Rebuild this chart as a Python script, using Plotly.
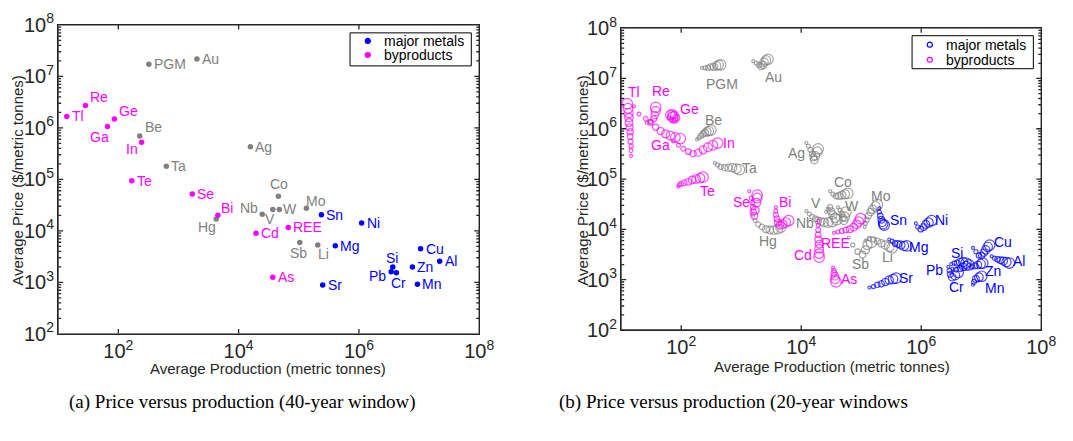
import math
import plotly.graph_objects as go

# ---------------- (a) 40-year window: one point per element ----------------
elements_a = ["PGM", "Au", "Re", "Tl", "Ge", "Ga", "Be", "In", "Ta", "Te", "Ag", "Se",
              "Bi", "Hg", "Cd", "Nb", "V", "W", "Co", "Mo", "REE", "Sb", "Li", "As",
              "Sn", "Ni", "Mg", "Sr", "Cu", "Al", "Zn", "Si", "Pb", "Cr", "Mn"]
prod_a = [322, 2027, 28.4, 13.9, 86, 66, 227, 244, 628, 167, 15700, 1698,
          4530, 4250, 19500, 24700, 37000, 47500, 45800, 1.34e5, 66800, 1.04e5, 2.07e5, 37000,
          2.38e5, 1.11e6, 4.05e5, 2.5e5, 1.06e7, 2.2e7, 7.76e6, 3.65e6, 3.44e6, 4.2e6, 9.4e6]
price_a = [1.71e7, 2.17e7, 2.7e6, 1.66e6, 1.49e6, 1.06e6, 6.95e5, 5.25e5, 1.8e5, 9.4e4, 4.3e5, 5.2e4,
           2.0e4, 1.7e4, 9.0e3, 2.1e4, 2.6e4, 2.6e4, 4.68e4, 2.74e4, 1.16e4, 5.9e3, 5.3e3, 1.26e3,
           2.04e4, 1.41e4, 5.1e3, 890, 4.47e3, 2.55e3, 1.98e3, 1.98e3, 1.6e3, 1.54e3, 912]

major_metals = ["Sn", "Ni", "Mg", "Sr", "Cu", "Al", "Zn", "Si", "Pb", "Cr", "Mn"]
byproducts = ["Re", "Tl", "Ge", "Ga", "In", "Te", "Se", "Bi", "Cd", "REE", "As"]
legend_labels = ["major metals", "byproducts"]

# ---------------- (b) 20-year windows: trajectories ----------------
PGM_prod = [222, 249, 279, 312, 349, 391, 422, 455]
PGM_price = [1.63e7, 1.63e7, 1.63e7, 1.70e7, 1.70e7, 1.78e7, 1.86e7, 1.86e7]
Au_prod = [1590, 1780, 1990, 2150, 2320, 2400, 2590, 2800]
Au_price = [2.21e7, 2.02e7, 1.86e7, 1.70e7, 1.86e7, 2.11e7, 2.30e7, 2.40e7]
Tl_prod = [14.6, 14.6, 14.6, 14.3, 14.1, 14.1, 13.8, 13.5, 13.5, 13.3, 13.0, 12.6]
Tl_price = [2.9e5, 3.65e5, 4.5e5, 5.6e5, 7.0e5, 8.7e5, 1.07e6, 1.33e6, 1.66e6, 2.05e6, 2.55e6, 3.16e6]
Ga_prod = [16.3, 19.8, 25.7, 31.0, 37.6, 45.4, 54.9, 66.2, 80.0, 96.6]
Ga_price = [2.78e6, 1.97e6, 1.58e6, 1.33e6, 1.07e6, 9.0e5, 7.9e5, 7.3e5, 6.7e5, 6.4e5]
Re_prod = [26.7, 31.0, 34.8, 36.2, 37.6, 37.6]
Re_price = [1.33e6, 1.39e6, 1.58e6, 1.88e6, 2.24e6, 2.66e6]
Ge_prod = [63, 68, 74, 80, 83, 77, 71, 66, 72]
Ge_price = [1.66e6, 1.5e6, 1.45e6, 1.5e6, 1.66e6, 1.88e6, 1.97e6, 1.88e6, 1.7e6]
In_prod = [74, 90, 108, 131, 158, 191, 231, 279, 336, 406]
In_price = [5.6e5, 4.7e5, 4.0e5, 3.5e5, 3.2e5, 3.35e5, 3.8e5, 4.3e5, 4.7e5, 5.2e5]
Be_prod = [184, 198, 214, 231, 249, 268, 289, 312]
Be_price = [6.1e5, 6.7e5, 7.3e5, 7.9e5, 8.3e5, 8.7e5, 9.0e5, 9.4e5]
Ta_prod = [363, 406, 455, 530, 616, 717, 834, 934]
Ta_price = [2.08e5, 1.91e5, 1.75e5, 1.68e5, 1.68e5, 1.68e5, 1.61e5, 1.54e5]
Te_prod = [89.5, 93, 100, 112, 131, 152, 177, 206, 231]
Te_price = [7.1e4, 7.7e4, 8.1e4, 8.4e4, 8.8e4, 9.6e4, 1.0e5, 1.04e5, 1.09e5]
Ag_prod = [12200, 13200, 14200, 15300, 15900, 16500, 17200, 18500, 19200]
Ag_price = [5.2e5, 4.5e5, 3.8e5, 3.2e5, 2.7e5, 2.4e5, 2.9e5, 3.5e5, 4.0e5]
Se_prod = [1365, 1470, 1530, 1585, 1585, 1650, 1710, 1780, 1845, 1845]
Se_price = [5.7e4, 4.2e4, 3.4e4, 2.74e4, 2.21e4, 1.86e4, 2.4e4, 3.4e4, 4.2e4, 4.8e4]
Hg_prod = [1585, 1710, 1915, 2230, 2590, 3015, 3510, 4080, 4570]
Hg_price = [1.86e4, 1.5e4, 1.26e4, 1.11e4, 1.01e4, 9.7e3, 9.7e3, 1.01e4, 1.11e4]
Bi_prod = [3780, 3780, 3780, 3930, 4080, 4400, 4930, 5520, 6180]
Bi_price = [2.74e4, 2.3e4, 1.94e4, 1.63e4, 1.37e4, 1.21e4, 1.26e4, 1.37e4, 1.5e4]
Nb_prod = [12200, 13700, 15300, 17200, 19200, 21500, 24100, 28100, 32700]
Nb_price = [2.3e4, 2.02e4, 1.78e4, 1.63e4, 1.5e4, 1.43e4, 1.37e4, 1.37e4, 1.43e4]
V_prod = [26000, 28100, 30300, 31500, 33900, 36600, 39400]
V_price = [2.21e4, 2.51e4, 2.74e4, 2.3e4, 1.94e4, 1.7e4, 1.56e4]
W_prod = [40900, 44200, 47600, 49500, 51400, 53400, 55400]
W_price = [2.74e4, 2.4e4, 2.02e4, 1.7e4, 1.5e4, 1.78e4, 2.21e4]
Co_prod = [30300, 33900, 38000, 42600, 47600, 53400, 59800]
Co_price = [5.7e4, 5.0e4, 4.6e4, 4.6e4, 4.8e4, 5.0e4, 5.2e4]
Mo_prod = [1.14e5, 1.18e5, 1.23e5, 1.32e5, 1.43e5, 1.54e5, 1.72e5, 1.86e5]
Mo_price = [1.11e4, 1.32e4, 1.56e4, 1.86e4, 2.21e4, 2.51e4, 2.86e4, 3.12e4]
Sn_prod = [2.0e5, 2.0e5, 2.08e5, 2.16e5, 2.25e5, 2.33e5, 2.42e5]
Sn_price = [2.62e4, 2.21e4, 1.86e4, 1.56e4, 1.37e4, 1.26e4, 1.21e4]
REE_prod = [35200, 40900, 47600, 55400, 64600, 75100, 84000, 90600, 97700]
REE_price = [8.5e3, 8.9e3, 9.3e3, 9.7e3, 1.01e4, 1.11e4, 1.26e4, 1.43e4, 1.63e4]
Cd_prod = [19200, 19200, 19200, 19200, 19200, 19900, 19900, 19900, 19900]
Cd_price = [1.5e4, 1.21e4, 9.7e3, 7.8e3, 6.3e3, 5.1e3, 4.1e3, 3.3e3, 2.8e3]
Sb_prod = [62100, 72300, 87300, 1.05e5, 1.18e5, 1.27e5, 1.48e5]
Sb_price = [6.9e3, 4.9e3, 3.6e3, 3.16e3, 3.9e3, 4.9e3, 5.5e3]
Li_prod = [1.18e5, 1.37e5, 1.6e5, 1.86e5, 2.16e5, 2.52e5, 2.93e5, 3.28e5]
Li_price = [6.0e3, 6.6e3, 6.3e3, 5.8e3, 5.3e3, 4.9e3, 4.5e3, 4.3e3]
Mg_prod = [2.93e5, 3.28e5, 3.67e5, 4.11e5, 4.6e5, 5.16e5, 5.78e5]
Mg_price = [6.3e3, 5.8e3, 5.3e3, 5.1e3, 4.9e3, 4.7e3, 4.7e3]
As_prod = [33900, 35200, 35200, 36600, 36600, 38000]
As_price = [1.73e3, 1.52e3, 1.33e3, 1.17e3, 1.03e3, 904]
Sr_prod = [1.37e5, 1.6e5, 1.86e5, 2.16e5, 2.52e5, 2.93e5, 3.4e5, 3.81e5]
Sr_price = [698, 729, 794, 830, 904, 986, 1030, 1075]
Ni_prod = [8.13e5, 8.77e5, 9.82e5, 1.1e6, 1.19e6, 1.33e6, 1.49e6]
Ni_price = [1.32e4, 1.11e4, 1.01e4, 1.11e4, 1.26e4, 1.37e4, 1.5e4]
Cu_prod = [7.28e6, 8.15e6, 9.14e6, 1.02e7, 1.1e7, 1.19e7, 1.28e7, 1.38e7]
Cu_price = [4.28e3, 3.6e3, 3.03e3, 3.03e3, 3.45e3, 3.92e3, 4.47e3, 4.87e3]
Al_prod = [1.49e7, 1.67e7, 1.87e7, 2.1e7, 2.35e7, 2.63e7, 2.95e7]
Al_price = [2.9e3, 2.66e3, 2.55e3, 2.44e3, 2.34e3, 2.24e3, 2.14e3]
Zn_prod = [6.25e6, 7.01e6, 7.85e6, 8.79e6, 9.84e6, 1.06e7]
Zn_price = [1.97e3, 1.8e3, 1.88e3, 1.97e3, 2.05e3, 2.14e3]
Si_prod = [3.17e6, 3.55e6, 3.97e6, 4.45e6, 4.99e6, 5.58e6]
Si_price = [2.05e3, 2.14e3, 2.14e3, 2.24e3, 2.24e3, 2.14e3]
Pb_prod = [2.83e6, 2.94e6, 3.05e6, 3.29e6, 3.68e6, 4.13e6]
Pb_price = [1.8e3, 1.52e3, 1.28e3, 1.12e3, 1.22e3, 1.39e3]
Cr_prod = [3.29e6, 3.83e6, 4.45e6, 4.99e6, 5.58e6, 6.25e6]
Cr_price = [1.66e3, 1.58e3, 1.66e3, 1.8e3, 1.88e3, 1.97e3]
Mn_prod = [7.28e6, 7.56e6, 8.15e6, 9.14e6, 1.02e7]
Mn_price = [794, 904, 1.03e3, 1.12e3, 1.17e3]

traj_b = {
    "PGM": (PGM_prod, PGM_price), "Au": (Au_prod, Au_price), "Tl": (Tl_prod, Tl_price),
    "Ga": (Ga_prod, Ga_price), "Re": (Re_prod, Re_price), "Ge": (Ge_prod, Ge_price),
    "In": (In_prod, In_price), "Be": (Be_prod, Be_price), "Ta": (Ta_prod, Ta_price),
    "Te": (Te_prod, Te_price), "Ag": (Ag_prod, Ag_price), "Se": (Se_prod, Se_price),
    "Hg": (Hg_prod, Hg_price), "Bi": (Bi_prod, Bi_price), "Nb": (Nb_prod, Nb_price),
    "V": (V_prod, V_price), "W": (W_prod, W_price), "Co": (Co_prod, Co_price),
    "Mo": (Mo_prod, Mo_price), "Sn": (Sn_prod, Sn_price), "REE": (REE_prod, REE_price),
    "Cd": (Cd_prod, Cd_price), "Sb": (Sb_prod, Sb_price), "Li": (Li_prod, Li_price),
    "Mg": (Mg_prod, Mg_price), "As": (As_prod, As_price), "Sr": (Sr_prod, Sr_price),
    "Ni": (Ni_prod, Ni_price), "Cu": (Cu_prod, Cu_price), "Al": (Al_prod, Al_price),
    "Zn": (Zn_prod, Zn_price), "Si": (Si_prod, Si_price), "Pb": (Pb_prod, Pb_price),
    "Cr": (Cr_prod, Cr_price), "Mn": (Mn_prod, Mn_price),
}

# ---------------- styles ----------------
BLUE, MAGENTA, GRAY = "#0000FF", "#FF00FF", "#808080"
FONT = "Liberation Sans, Arial, sans-serif"
LABEL_SIZE = 14
AX_COL = "#262626"


def group_color(el):
    if el in major_metals:
        return BLUE
    if el in byproducts:
        return MAGENTA
    return GRAY


label_style_a = {
    "Tl": ("left", 3, 0), "Re": ("left", 3, -9), "Ge": ("left", 3, -8), "Ga": ("right", 4, 10),
    "Be": ("left", 3, -9), "In": ("right", -2, 7), "PGM": ("left", 3, 0), "Au": ("left", 3, 0),
    "Ta": ("left", 3, 0), "Te": ("left", 3, 0), "Se": ("left", 3, 0), "Ag": ("left", 3, 0),
    "Bi": ("left", 1, -7), "Hg": ("right", 2, 8), "Cd": ("left", 3, 0), "Nb": ("right", -2, -6),
    "V": ("center", -3, 10), "W": ("left", 2, 0), "Co": ("center", 1, -12), "Mo": ("left", -2, -7),
    "Sn": ("left", 3, 0), "Ni": ("left", 3, 0), "REE": ("left", 3, 0), "Sb": ("center", -1, 10),
    "Li": ("center", 6, 9), "Mg": ("left", 3, 0), "As": ("left", 3, 0), "Sr": ("left", 3, 0),
    "Cu": ("left", 3, 0), "Al": ("left", 3, 0), "Zn": ("left", 3, 0), "Si": ("center", -1, -9),
    "Pb": ("right", -3, 4), "Cr": ("center", 2, 10), "Mn": ("left", 3, 0),
}

label_style_b = {
    "Tl": (7, -12), "Re": (5, -16), "Ge": (17, -8), "Ga": (-20, 6), "Be": (3, -10),
    "In": (11, 0), "PGM": (1, 19), "Au": (5, 18), "Ta": (10, -2), "Te": (4, 14),
    "Ag": (-22, 4), "Co": (-5, -11), "Mo": (4, -9), "V": (-21, -17), "W": (6, -6),
    "Nb": (-27, 1), "Se": (-16, 7), "Bi": (-4, -19), "Hg": (-13, 14), "REE": (-25, 24),
    "Cd": (-16, -2), "Sb": (-11, 22), "Li": (-5, 9), "As": (13, -3), "Sn": (14, -5),
    "Ni": (10, -1), "Mg": (12, 1), "Sr": (10, 0), "Si": (-9, -10), "Pb": (-24, -2),
    "Cr": (-12, 22), "Zn": (10, 8), "Cu": (13, -3), "Mn": (13, 12), "Al": (10, -2),
}

W_FIG, H_FIG = 1073, 441
X_RANGE, Y_RANGE = (1, 8), (2, 8)
BOX_A = (59, 486, 11.5, 339)    # left, right, top, bottom (px)
BOX_B = (630, 1056, 15, 335)

fig = go.Figure()
groups = [("others", GRAY), ("major metals", BLUE), ("byproducts", MAGENTA)]

# ---- axes frame + inside ticks drawn as line traces on each subplot's own log scale ----
for (L, R, T, B), xa, ya in ((BOX_A, "x", "y"), (BOX_B, "x2", "y2")):
    dx_px = (X_RANGE[1] - X_RANGE[0]) / (R - L)   # decades per pixel
    dy_px = (Y_RANGE[1] - Y_RANGE[0]) / (B - T)
    x0, x1 = 10 ** X_RANGE[0], 10 ** X_RANGE[1]
    y0, y1 = 10 ** Y_RANGE[0], 10 ** Y_RANGE[1]
    fx, fy = [x0, x1, x1, x0, x0, None], [y0, y0, y1, y1, y0, None]
    for d in range(2, X_RANGE[1], 2):
        for ybase, sgn in ((Y_RANGE[0], 1), (Y_RANGE[1], -1)):
            fx += [10 ** d, 10 ** d, None]
            fy += [10 ** ybase, 10 ** (ybase + sgn * 5 * dy_px), None]
    for d in range(Y_RANGE[0], Y_RANGE[1]):
        for m in range(1, 10):
            lv = d + math.log10(m)
            if lv <= Y_RANGE[0]:
                continue
            ln = 5 if m == 1 else 3
            fx += [x0, 10 ** (X_RANGE[0] + ln * dx_px), None,
                   x1, 10 ** (X_RANGE[1] - ln * dx_px), None]
            fy += [10 ** lv, 10 ** lv, None, 10 ** lv, 10 ** lv, None]
    fig.add_trace(go.Scatter(x=fx, y=fy, mode="lines", line=dict(color=AX_COL, width=1.3),
                             cliponaxis=False, showlegend=False, hoverinfo="skip",
                             xaxis=xa, yaxis=ya))

for name, col in groups:
    idx = [i for i, e in enumerate(elements_a) if group_color(e) == col]
    fig.add_trace(go.Scatter(
        x=[prod_a[i] for i in idx], y=[price_a[i] for i in idx],
        mode="markers", marker=dict(color=col, size=5.5, symbol="circle"),
        name=name, showlegend=False, xaxis="x", yaxis="y", hoverinfo="skip"))

for name, col in groups:
    xs, ys, ss = [], [], []
    for el, (px, py) in traj_b.items():
        if group_color(el) != col:
            continue
        n = len(px)
        for i in range(n):
            xs.append(px[i])
            ys.append(py[i])
            ss.append(3.0 + 7.5 * i / max(n - 1, 1))
    fig.add_trace(go.Scatter(
        x=xs, y=ys, mode="markers",
        marker=dict(color=col, size=ss, symbol="circle-open", line=dict(width=1.2, color=col)),
        name=name, showlegend=False, xaxis="x2", yaxis="y2", hoverinfo="skip"))

annotations = []
for i, el in enumerate(elements_a):
    anchor, dx, dy = label_style_a[el]
    annotations.append(dict(
        x=math.log10(prod_a[i]), y=math.log10(price_a[i]), xref="x", yref="y",
        text=el, showarrow=False, xanchor=anchor, yanchor="middle",
        xshift=dx, yshift=-dy, font=dict(family=FONT, size=LABEL_SIZE, color=group_color(el))))

for el, (px, py) in traj_b.items():
    dx, dy = label_style_b[el]
    annotations.append(dict(
        x=math.log10(px[-1]), y=math.log10(py[-1]), xref="x2", yref="y2",
        text=el, showarrow=False, xanchor="center", yanchor="middle",
        xshift=dx, yshift=-dy, font=dict(family=FONT, size=LABEL_SIZE, color=group_color(el))))

TITLE_FONT = dict(family=FONT, size=15, color="#262626")
for xc, yc, txt, ang in [
    (17, 176, "Average Price ($/metric tonnes)", -90),
    (272, 376, "Average Production (metric tonnes)", 0),
    (590, 176, "Average Price ($/metric tonnes)", -90),
    (844, 374, "Average Production (metric tonnes)", 0),
]:
    annotations.append(dict(x=xc / W_FIG, y=1 - yc / H_FIG, xref="paper", yref="paper",
                            text=txt, textangle=ang, showarrow=False,
                            xanchor="center", yanchor="middle", font=TITLE_FONT))

CAP_FONT = dict(family="Liberation Serif, Times New Roman, serif", size=19, color="black")
annotations.append(dict(x=68 / W_FIG, y=1 - 411 / H_FIG, xref="paper", yref="paper",
                        text="(a) Price versus production (40-year window)", showarrow=False,
                        xanchor="left", yanchor="middle", font=CAP_FONT))
annotations.append(dict(x=565 / W_FIG, y=1 - 411 / H_FIG, xref="paper", yref="paper",
                        text="(b) Price versus production (20-year windows", showarrow=False,
                        xanchor="left", yanchor="middle", font=CAP_FONT))

shapes = []
LEG_FONT = dict(family=FONT, size=14, color="black")
for (bx0, by0, bx1, by1, keyx, textx, rows, filled) in [
    (355, 20, 478, 55, 373, 387, (28.5, 43.5), True),
    (925, 23, 1048, 58, 943, 957, (32.5, 48.5), False),
]:
    shapes.append(dict(type="rect", xref="paper", yref="paper",
                       x0=bx0 / W_FIG, x1=bx1 / W_FIG, y0=1 - by1 / H_FIG, y1=1 - by0 / H_FIG,
                       line=dict(color="black", width=1), fillcolor="white", layer="above"))
    for label, col, ry in zip(legend_labels, [BLUE, MAGENTA], rows):
        r = 2.6
        shapes.append(dict(type="circle", xref="paper", yref="paper",
                           x0=(keyx - r) / W_FIG, x1=(keyx + r) / W_FIG,
                           y0=1 - (ry + r) / H_FIG, y1=1 - (ry - r) / H_FIG,
                           line=dict(color=col, width=1.2),
                           fillcolor=col if filled else "white", layer="above"))
        annotations.append(dict(x=textx / W_FIG, y=1 - ry / H_FIG, xref="paper", yref="paper",
                                text=label, showarrow=False, xanchor="left", yanchor="middle",
                                font=LEG_FONT))

TICK_FONT = dict(family=FONT, size=16, color="#262626")


def xaxis_cfg(box, anchor):
    return dict(type="log", range=list(X_RANGE), dtick=2, tick0=0,
                domain=[box[0] / W_FIG, box[1] / W_FIG], anchor=anchor,
                showgrid=False, zeroline=False, showline=True, linecolor=AX_COL, linewidth=1,
                mirror=True, ticks="",
                exponentformat="power", showexponent="all", tickfont=TICK_FONT)


def yaxis_cfg(box, anchor):
    return dict(type="log", range=list(Y_RANGE), dtick=1, tick0=0,
                domain=[1 - box[3] / H_FIG, 1 - box[2] / H_FIG], anchor=anchor,
                showgrid=False, zeroline=False, showline=True, linecolor=AX_COL, linewidth=1,
                mirror=True, ticks="",
                exponentformat="power", showexponent="all", tickfont=TICK_FONT)


fig.update_layout(
    width=W_FIG, height=H_FIG, margin=dict(l=0, r=0, t=0, b=0),
    paper_bgcolor="white", plot_bgcolor="white",
    xaxis=xaxis_cfg(BOX_A, "y"), yaxis=yaxis_cfg(BOX_A, "x"),
    xaxis2=xaxis_cfg(BOX_B, "y2"), yaxis2=yaxis_cfg(BOX_B, "x2"),
    annotations=annotations,
    shapes=shapes,
    showlegend=False,
)

fig.write_html("out.html")
